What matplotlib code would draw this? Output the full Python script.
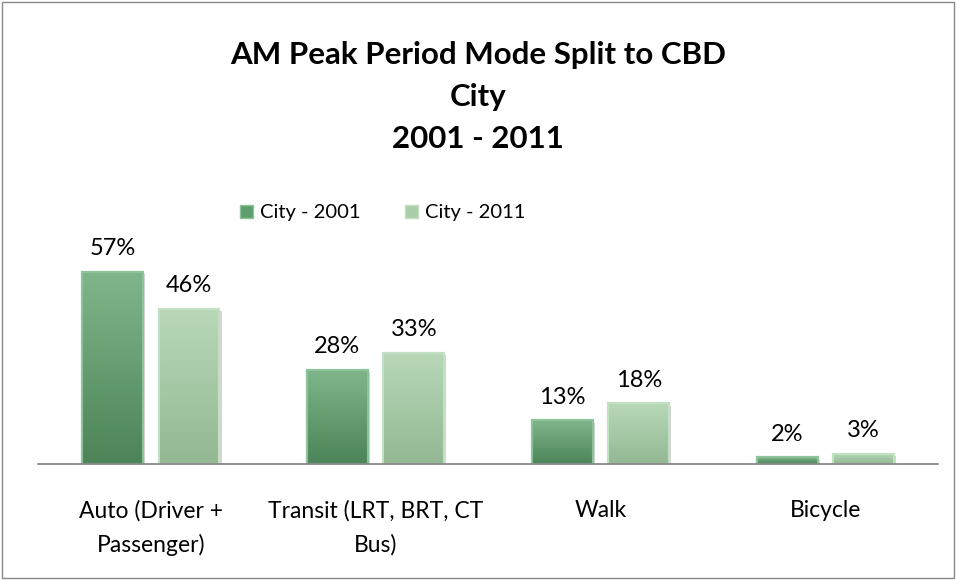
import matplotlib.pyplot as plt
import numpy as np
from matplotlib.patches import Rectangle
from matplotlib.colors import LinearSegmentedColormap

categories = ["Auto (Driver +\nPassenger)", "Transit (LRT, BRT, CT\nBus)", "Walk", "Bicycle"]
city2001 = [57, 28, 13, 2]
city2011 = [46, 33, 18, 3]
seriesNames = ["City - 2001", "City - 2011"]
titleText = "AM Peak Period Mode Split to CBD\nCity\n2001 - 2011"

plt.rcParams['font.family'] = ['Lato', 'DejaVu Sans']

fig = plt.figure(figsize=(9.56, 5.8), dpi=100)
ax = fig.add_axes([0.040, 0.2, 0.941, 0.349])

x = np.arange(len(categories))
width = 0.27
offset = 0.17
colors = ["#5e9d6c", "#a9cca9"]
edges = ["#8cc398", "#c4e0c4"]
gradients = [["#7fb58a", "#4c8559"], ["#b8d8b8", "#93b893"]]

for vals, dx, c, ec, grad, name in zip([city2001, city2011], [-offset, offset], colors, edges,
                                       gradients, seriesNames):
    # soft shadow under each bar
    ax.bar(x + dx + 0.01, vals, width, bottom=-0.7, color="#d4d4d4", zorder=1)
    bars = ax.bar(x + dx, vals, width, color=c, edgecolor=ec, linewidth=1.5, label=name, zorder=2)
    cmap = LinearSegmentedColormap.from_list("g", grad)
    for b, v in zip(bars, vals):
        x0 = b.get_x()
        img = ax.imshow(np.linspace(0, 1, 50).reshape(-1, 1), cmap=cmap, aspect="auto",
                        extent=[x0, x0 + b.get_width(), 0, v], origin="upper", zorder=2.5)
        img.set_clip_path(b)
        ax.bar(x0 + b.get_width() / 2, v, b.get_width(), fill=False, edgecolor=ec,
               linewidth=1.5, zorder=2.6)
        ax.annotate(f"{v}%", (x0 + b.get_width() / 2, v), xytext=(0, 9),
                    textcoords="offset points", ha="center", va="bottom", fontsize=17)

ax.set_xlim(-0.5, len(categories) - 0.5)
ax.set_ylim(0, 60)
ax.set_yticks([])
ax.set_xticks(x)
ax.set_xticklabels(categories, fontsize=16.5, linespacing=1.7)
ax.tick_params(axis="x", length=0, pad=26)
for s in ["top", "left", "right"]:
    ax.spines[s].set_visible(False)
ax.spines["bottom"].set_color("#808080")
ax.spines["bottom"].set_linewidth(1.2)
ax.spines["bottom"].set_zorder(3)

fig.text(0.5, 0.93, titleText, ha="center", va="top", fontsize=22.5, fontweight="bold",
         linespacing=1.62)

handles = [Rectangle((0, 0), 1, 1, facecolor=colors[0], edgecolor=edges[0]),
           Rectangle((0, 0), 1, 1, facecolor=colors[1], edgecolor=edges[1])]
fig.legend(handles, seriesNames, loc="center", bbox_to_anchor=(0.40, 0.633), ncol=2, frameon=False,
           fontsize=14.5, handlelength=0.65, handleheight=0.65, handletextpad=0.35, columnspacing=2.2)

fig.patches.append(Rectangle((0.002, 0.003), 0.996, 0.994, transform=fig.transFigure,
                             fill=False, edgecolor="#888888", linewidth=1))

fig.savefig("out.png", dpi=100)
